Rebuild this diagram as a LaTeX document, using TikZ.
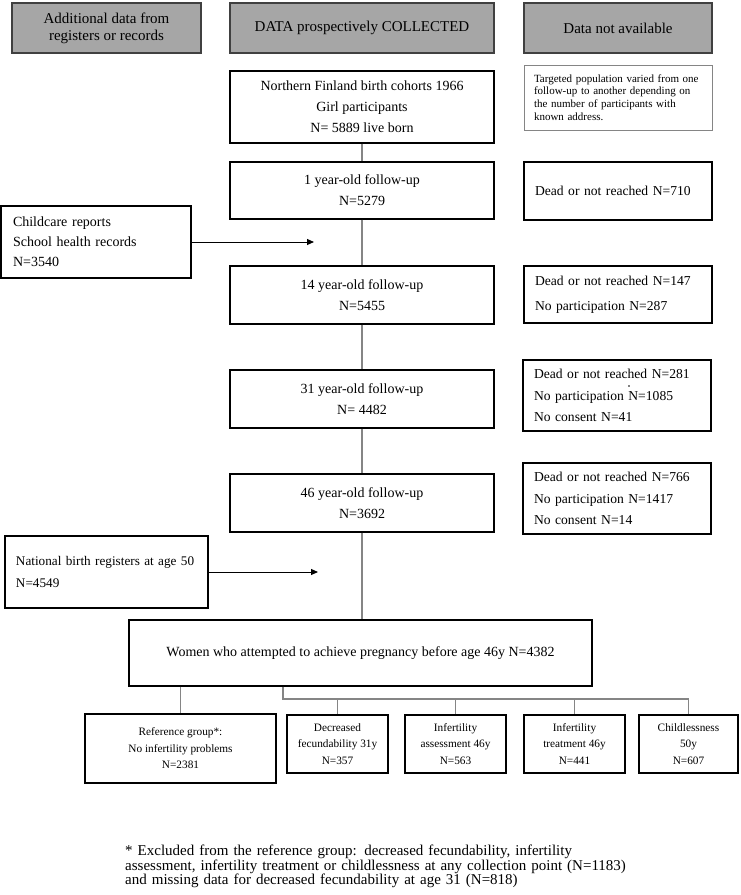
\documentclass[tikz,border=0pt]{standalone}
\usepackage{fontspec}
\setmainfont{Liberation Serif}
\usetikzlibrary{arrows.meta,calc}
\definecolor{hdrgray}{HTML}{A6A6A6}
\definecolor{linegray}{HTML}{858585}
\tikzset{
  hdr/.style={draw=black!75, fill=hdrgray, line width=1.3pt, inner sep=0pt, align=center, font=\fontsize{15}{17}\selectfont},
  cbox/.style={draw=black, line width=1.1pt, inner sep=0pt, align=center, font=\fontsize{14}{21}\selectfont},
  lbox/.style={draw=black, line width=1.1pt, inner sep=0pt, align=left, font=\fontsize{13.6}{21.5}\selectfont},
  notebox/.style={draw=linegray, line width=0.9pt, inner sep=0pt, align=left, font=\fontsize{11}{12.6}\selectfont},
  bbox/.style={draw=black, line width=2.4pt, inner sep=0pt, align=center, font=\fontsize{11.3}{16.5}\selectfont},
  conn/.style={draw=linegray, line width=1.1pt},
  arr/.style={draw=black, line width=1pt, -{Triangle[length=7pt,width=6pt]}},
}
\begin{document}
\begin{tikzpicture}[x=1pt,y=-1pt]
\useasboundingbox (0,0) rectangle (740,895);
% headers
\node[hdr, minimum width=189pt, minimum height=50pt] (h1) at (106.5,28) {Additional data from\\registers or records};
\node[hdr, minimum width=264pt, minimum height=50pt] (h2) at (362,28) {DATA prospectively COLLECTED};
\node[hdr, minimum width=188pt, minimum height=50pt] (h3) at (618,28) {Data not available};
% main column
\node[cbox, minimum width=264pt, minimum height=72pt] (north) at (362,107) {Northern Finland birth cohorts 1966\\Girl participants\\N= 5889 live born};
\node[cbox, minimum width=264pt, minimum height=57pt] (y1) at (362,190.5) {1 year-old follow-up\\N=5279};
\node[cbox, minimum width=264pt, minimum height=58pt] (y14) at (362,295) {14 year-old follow-up\\N=5455};
\node[cbox, minimum width=264pt, minimum height=58pt] (y31) at (362,399) {31 year-old follow-up\\N= 4482};
\node[cbox, minimum width=264pt, minimum height=58pt] (y46) at (362,503) {46 year-old follow-up\\N=3692};
% right column
\node[notebox, minimum width=188pt, minimum height=65pt, text width=168pt] (note) at (618,97.5) {Targeted population varied from one\\follow-up to another depending on\\the number of participants with\\known address.};
\node[lbox, minimum width=188pt, minimum height=58pt, text width=166pt] (d1) at (618,191) {Dead or not reached N=710};
\node[lbox, minimum width=188pt, minimum height=57pt, text width=166pt, font=\fontsize{13.6}{25}\selectfont] (d14) at (618,294.5) {Dead or not reached N=147\\No participation N=287};
\node[lbox, minimum width=188pt, minimum height=71pt, text width=166pt] (d31) at (617,395.5) {Dead or not reached N=281\\No participation N=1085\\No consent N=41};
\node[lbox, minimum width=188pt, minimum height=71pt, text width=166pt] (d46) at (617,498.5) {Dead or not reached N=766\\No participation N=1417\\No consent N=14};
\fill (629,386) circle (0.9pt);
% left column
\node[lbox, minimum width=190pt, minimum height=72pt, text width=166pt, font=\fontsize{14}{20}\selectfont] (child) at (96,242) {Childcare reports\\School health records\\N=3540};
\node[lbox, minimum width=203pt, minimum height=72pt, text width=181pt, font=\fontsize{13.2}{21.5}\selectfont] (nat) at (106.5,572) {\mbox{National birth registers at age 50}\\N=4549};
\coordinate (a1) at (314,242);
\coordinate (a2) at (318,572);
\draw[arr] (child.east) -- (a1);
\draw[arr] (nat.east) -- (a2);
% women
\node[cbox, minimum width=463pt, minimum height=66pt] (women) at (360.5,653) {Women who attempted to achieve pregnancy before age 46y N=4382};
% bottom
\node[bbox, minimum width=191pt, minimum height=69pt] (ref) at (180.5,748.5) {Reference group*:\\No infertility problems\\N=2381};
\node[bbox, minimum width=101pt, minimum height=58pt] (dec) at (337.5,744) {Decreased\\fecundability 31y\\N=357};
\node[bbox, minimum width=101pt, minimum height=58pt] (ass) at (455.5,744) {Infertility\\assessment 46y\\N=563};
\node[bbox, minimum width=101pt, minimum height=58pt] (trt) at (574.5,744) {Infertility\\treatment 46y\\N=441};
\node[bbox, minimum width=99pt, minimum height=58pt] (cl) at (688.5,744) {Childlessness\\50y\\N=607};
% connectors
\draw[conn] (north.south) -- (y1.north);
\draw[conn] (y1.south) -- (y14.north);
\draw[conn] (y14.south) -- (y31.north);
\draw[conn] (y31.south) -- (y46.north);
\draw[conn] (y46.south) -- (y46.south |- women.north);
\coordinate (bj) at (283,699);
\draw[conn] (ref.north |- women.south) -- (ref.north);
\draw[conn] (bj |- women.south) -- (bj) -- (bj -| cl.north) -- (cl.north);
\draw[conn] (bj -| dec.north) -- (dec.north);
\draw[conn] (bj -| ass.north) -- (ass.north);
\draw[conn] (bj -| trt.north) -- (trt.north);
% footnote
\node[anchor=north west, inner sep=0pt, align=left, text width=560pt, font=\fontsize{15}{14.5}\selectfont] (foot) at (125,845) {* Excluded from the reference group: decreased fecundability, infertility\\assessment, infertility treatment or childlessness at any collection point (N=1183)\\and missing data for decreased fecundability at age 31 (N=818)};
\end{tikzpicture}
\end{document}
